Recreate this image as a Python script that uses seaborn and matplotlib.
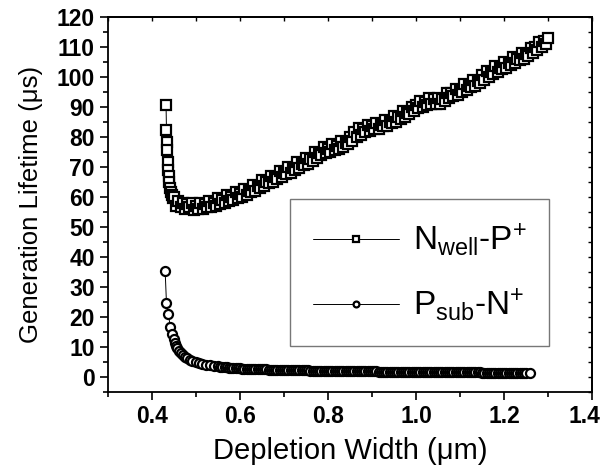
import matplotlib
matplotlib.use("Agg")
import seaborn as sns
import matplotlib.pyplot as plt
import matplotlib.transforms as mtransforms
from matplotlib.ticker import MultipleLocator

# N_well-P+ (squares)
nwell_x = [0.432, 0.433, 0.434, 0.435, 0.436, 0.437, 0.438, 0.439, 0.441, 0.443, 0.445, 0.447,
           0.450, 0.455, 0.460, 0.465, 0.470, 0.475, 0.480, 0.485, 0.490, 0.495,
           0.500, 0.505, 0.510, 0.515, 0.520, 0.525, 0.530, 0.535, 0.540, 0.545,
           0.550, 0.555, 0.560, 0.565, 0.570, 0.575, 0.580, 0.585, 0.590, 0.595,
           0.600, 0.605, 0.610, 0.615, 0.620, 0.625, 0.630, 0.635, 0.640, 0.645,
           0.650, 0.655, 0.660, 0.665, 0.670, 0.675, 0.680, 0.685, 0.690, 0.695,
           0.700, 0.705, 0.710, 0.715, 0.720, 0.725, 0.730, 0.735, 0.740, 0.745,
           0.750, 0.755, 0.760, 0.765, 0.770, 0.775, 0.780, 0.785, 0.790, 0.795,
           0.800, 0.805, 0.810, 0.815, 0.820, 0.825, 0.830, 0.835, 0.840, 0.845,
           0.850, 0.855, 0.860, 0.865, 0.870, 0.875, 0.880, 0.885, 0.890, 0.895,
           0.900, 0.905, 0.910, 0.915, 0.920, 0.925, 0.930, 0.935, 0.940, 0.945,
           0.950, 0.955, 0.960, 0.965, 0.970, 0.975, 0.980, 0.985, 0.990, 0.995,
           1.000, 1.005, 1.010, 1.015, 1.020, 1.025, 1.030, 1.035, 1.040, 1.045,
           1.050, 1.055, 1.060, 1.065, 1.070, 1.075, 1.080, 1.085, 1.090, 1.095,
           1.100, 1.105, 1.110, 1.115, 1.120, 1.125, 1.130, 1.135, 1.140, 1.145,
           1.150, 1.155, 1.160, 1.165, 1.170, 1.175, 1.180, 1.185, 1.190, 1.195,
           1.200, 1.205, 1.210, 1.215, 1.220, 1.225, 1.230, 1.235, 1.240, 1.245,
           1.250, 1.255, 1.260, 1.265, 1.270, 1.275, 1.280, 1.285, 1.290, 1.295,
           1.300]
nwell_y = [90.7, 82.3, 78.4, 75.7, 71.5, 69.0, 67.0, 65.0, 63.0, 61.5, 60.5, 59.5,
           60.0, 57.0, 58.5, 56.5, 58.0, 56.0, 57.5, 56.5, 58.0, 55.5,
           57.0, 56.0, 58.0, 56.0, 57.5, 56.5, 58.5, 56.5, 58.0, 57.0,
           59.5, 57.5, 59.0, 58.0, 60.5, 58.5, 60.0, 59.0, 61.5, 59.5,
           61.0, 60.0, 62.5, 60.5, 62.0, 61.5, 64.0, 62.0, 63.5, 63.0,
           65.5, 63.5, 65.0, 64.5, 67.0, 65.0, 66.5, 66.0, 68.5, 66.5,
           68.0, 67.5, 70.0, 68.0, 69.5, 69.0, 71.5, 69.5, 71.0, 70.5,
           73.0, 71.0, 72.5, 72.0, 75.0, 73.0, 74.5, 74.0, 76.5, 74.5,
           76.0, 75.0, 77.5, 75.5, 77.0, 76.0, 78.5, 76.5, 78.0, 77.5,
           80.0, 78.5, 81.5, 80.0, 83.0, 80.5, 82.5, 81.5, 84.0, 82.0,
           83.5, 82.5, 84.5, 82.5, 84.0, 83.5, 85.5, 83.5, 85.0, 84.5,
           87.0, 85.0, 86.5, 86.0, 88.5, 86.5, 88.0, 87.5, 90.0, 88.5,
           90.5, 89.5, 92.0, 90.0, 91.5, 90.5, 93.0, 91.0, 92.5, 91.0,
           93.0, 91.0, 92.5, 92.0, 94.5, 93.0, 94.5, 93.5, 96.0, 94.0,
           95.5, 95.0, 97.5, 95.5, 97.0, 96.5, 99.0, 97.0, 98.5, 98.0,
           100.5, 99.0, 102.0, 100.0, 101.5, 101.0, 103.5, 101.5, 103.0, 102.5,
           105.0, 103.0, 104.5, 104.0, 106.5, 104.5, 106.0, 105.5, 108.0, 106.0,
           107.5, 107.0, 109.5, 108.0, 110.0, 109.0, 111.5, 110.0, 112.0, 111.0,
           113.0]

# P_sub-N+ (circles)
psub_x = [0.430, 0.433, 0.437, 0.442, 0.446, 0.449, 0.452, 0.455, 0.458, 0.462,
          0.466, 0.470, 0.475, 0.480, 0.486, 0.492, 0.499, 0.506, 0.514, 0.522,
          0.531, 0.540, 0.550, 0.555,
          0.560, 0.565, 0.570, 0.575, 0.580, 0.585, 0.590, 0.595, 0.600, 0.605,
          0.610, 0.615, 0.620, 0.625, 0.630, 0.635, 0.640, 0.645, 0.650, 0.655,
          0.660, 0.665, 0.670, 0.675, 0.680, 0.685, 0.690, 0.695, 0.700, 0.705,
          0.710, 0.715, 0.720, 0.725, 0.730, 0.735, 0.740, 0.745, 0.750, 0.755,
          0.760, 0.765, 0.770, 0.775, 0.780, 0.785, 0.790, 0.795, 0.800, 0.805,
          0.810, 0.815, 0.820, 0.825, 0.830, 0.835, 0.840, 0.845, 0.850, 0.855,
          0.860, 0.865, 0.870, 0.875, 0.880, 0.885, 0.890, 0.895, 0.900, 0.905,
          0.910, 0.915, 0.920, 0.925, 0.930, 0.935, 0.940, 0.945, 0.950, 0.955,
          0.960, 0.965, 0.970, 0.975, 0.980, 0.985, 0.990, 0.995, 1.000, 1.005,
          1.010, 1.015, 1.020, 1.025, 1.030, 1.035, 1.040, 1.045, 1.050, 1.055,
          1.060, 1.065, 1.070, 1.075, 1.080, 1.085, 1.090, 1.095, 1.100, 1.105,
          1.110, 1.115, 1.120, 1.125, 1.130, 1.135, 1.140, 1.145, 1.150, 1.155,
          1.160, 1.165, 1.170, 1.175, 1.180, 1.185, 1.190, 1.195, 1.200, 1.205,
          1.210, 1.215, 1.220, 1.225, 1.230, 1.235, 1.240, 1.245, 1.250, 1.259]
psub_y = [35.2, 24.5, 20.9, 16.6, 14.2, 12.6, 11.4, 10.3, 9.5, 8.7,
          8.0, 7.4, 6.8, 6.3, 5.8, 5.4, 5.0, 4.7, 4.4, 4.1,
          3.9, 3.7, 3.5, 3.42,
          3.35, 3.27, 3.20, 3.12, 3.05, 3.00, 2.95, 2.90, 2.85, 2.81,
          2.78, 2.75, 2.72, 2.69, 2.66, 2.63, 2.60, 2.57, 2.55, 2.52,
          2.50, 2.48, 2.46, 2.44, 2.42, 2.40, 2.38, 2.36, 2.34, 2.32,
          2.30, 2.28, 2.27, 2.25, 2.24, 2.22, 2.21, 2.19, 2.18, 2.16,
          2.15, 2.13, 2.12, 2.11, 2.10, 2.08, 2.07, 2.06, 2.05, 2.04,
          2.03, 2.01, 2.00, 1.99, 1.98, 1.97, 1.96, 1.95, 1.94, 1.93,
          1.92, 1.91, 1.90, 1.89, 1.88, 1.87, 1.86, 1.86, 1.85, 1.84,
          1.83, 1.82, 1.81, 1.81, 1.80, 1.79, 1.78, 1.77, 1.76, 1.76,
          1.75, 1.74, 1.73, 1.73, 1.72, 1.71, 1.70, 1.70, 1.69, 1.68,
          1.67, 1.67, 1.66, 1.65, 1.65, 1.64, 1.63, 1.63, 1.62, 1.61,
          1.61, 1.60, 1.59, 1.59, 1.58, 1.57, 1.57, 1.56, 1.55, 1.55,
          1.54, 1.53, 1.53, 1.52, 1.51, 1.51, 1.50, 1.50, 1.49, 1.48,
          1.48, 1.47, 1.47, 1.46, 1.46, 1.45, 1.45, 1.44, 1.44, 1.43,
          1.43, 1.42, 1.42, 1.41, 1.41, 1.40, 1.40, 1.39, 1.39, 1.30]

x_ticks = [0.4, 0.6, 0.8, 1.0, 1.2, 1.4]
y_ticks = [0, 10, 20, 30, 40, 50, 60, 70, 80, 90, 100, 110, 120]

label_nwell = r"N$_{well}$-P$^{+}$"
label_psub = r"P$_{sub}$-N$^{+}$"

sns.set_theme(style="ticks", rc={"axes.edgecolor": "black", "text.color": "black",
                                 "axes.labelcolor": "black", "xtick.color": "black",
                                 "ytick.color": "black"})
plt.rcParams["font.family"] = ["Liberation Sans", "DejaVu Sans"]
plt.rcParams["mathtext.fontset"] = "custom"
plt.rcParams["mathtext.rm"] = "Liberation Sans"
plt.rcParams["mathtext.default"] = "regular"

fig = plt.figure(figsize=(6.03, 4.70), dpi=100)
ax = fig.add_axes([0.179, 0.166, 0.803, 0.798])

common = dict(color="black", linewidth=0.7, markersize=6.5, markerfacecolor="white",
              markeredgecolor="black", markeredgewidth=1.6, estimator=None, sort=False)
sns.lineplot(x=nwell_x, y=nwell_y, marker="s", ax=ax, label=label_nwell, **common)
sns.lineplot(x=psub_x, y=psub_y, marker="o", ax=ax, label=label_psub, **common)

ax.set_xlim(0.3, 1.4)
ax.set_ylim(-5, 120)
ax.set_xticks(x_ticks)
ax.xaxis.set_minor_locator(MultipleLocator(0.1))
ax.set_yticks(y_ticks)
ax.yaxis.set_minor_locator(MultipleLocator(5))
ax.tick_params(which="major", direction="out", length=6, width=1.2, labelsize=16.5)
ax.tick_params(which="minor", direction="out", length=3.5, width=1.2)
for lab in ax.get_xticklabels() + ax.get_yticklabels():
    lab.set_fontweight("bold")
# keep the last x label inside the figure, as in the original
last = ax.xaxis.get_major_ticks()[-1].label1
last.set_transform(last.get_transform() +
                   mtransforms.ScaledTranslation(-8 / 100, 0, fig.dpi_scale_trans))

for s in ax.spines.values():
    s.set_linewidth(1.3)
    s.set_color("black")

top = ax.secondary_xaxis("top")
top.set_xticks(x_ticks)
top.xaxis.set_minor_locator(MultipleLocator(0.1))
top.tick_params(which="both", direction="in", length=3, width=1, labeltop=False)
right = ax.secondary_yaxis("right")
right.set_yticks(y_ticks)
right.yaxis.set_minor_locator(MultipleLocator(5))
right.tick_params(which="both", direction="in", length=3, width=1, labelright=False)

ax.set_xlabel("Depletion Width (\u03bcm)", fontsize=21, labelpad=6)
ax.set_ylabel("Generation Lifetime (\u03bcs)", fontsize=18.5, labelpad=10)

leg = ax.legend(loc="center", bbox_to_anchor=(0.6435, 0.3185), fontsize=24,
                frameon=True, fancybox=False, handlelength=2.6, handletextpad=0.4,
                labelspacing=0.85, borderpad=0.68, markerscale=0.65)
leg.get_frame().set_edgecolor("#555555")
leg.get_frame().set_linewidth(1.0)

fig.savefig("out.png", dpi=100)
